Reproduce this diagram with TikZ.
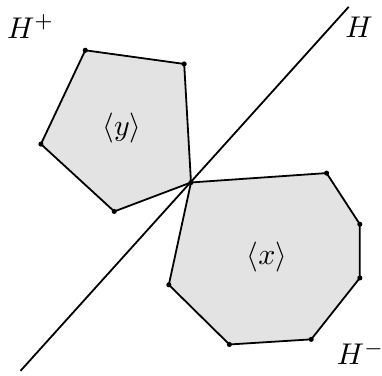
\documentclass[tikz,border=0pt]{standalone}
\usepackage{amsmath,amsfonts}
\newcommand{\vrt}[1]{\fill (#1) circle (0.03)}
\tikzset{cell/.style={fill=black!11,draw=black,semithick,line join=round}}

\begin{document}
\begin{tikzpicture}
	\useasboundingbox (-2.24,-2.26) rectangle (2.24,2.14);
		\draw[cell] (0,0) -- (-0.90,-0.34) -- (-1.76,0.45) -- (-1.24,1.55) -- (-0.08,1.39) -- cycle;
		\draw[cell] (0,0) -- (1.59,0.11) -- (1.98,-0.49) -- (1.98,-1.12) -- (1.41,-1.84) -- (0.45,-1.90) -- (-0.26,-1.20) -- cycle;
		\draw[semithick] (-2.00,-2.21) -- (1.85,2.06);
			\vrt{0,0};
			\vrt{-0.90,-0.34};
			\vrt{-1.76,0.45};
			\vrt{-1.24,1.55};
			\vrt{-0.08,1.39};
			\vrt{1.59,0.11};
			\vrt{1.98,-0.49};
			\vrt{1.98,-1.12};
			\vrt{1.41,-1.84};
			\vrt{0.45,-1.90};
			\vrt{-0.26,-1.20};
		\node (hplus) at (-1.88,1.83) {$H^+$};
		\node (hyp) at (1.97,1.82) {$H$};
		\node (hminus) at (1.99,-2.00) {$H^-$};
		\node (gy) at (-0.81,0.64) {$\langle y\rangle$};
		\node (gx) at (0.89,-0.87) {$\langle x\rangle$};
\end{tikzpicture}
\end{document}
